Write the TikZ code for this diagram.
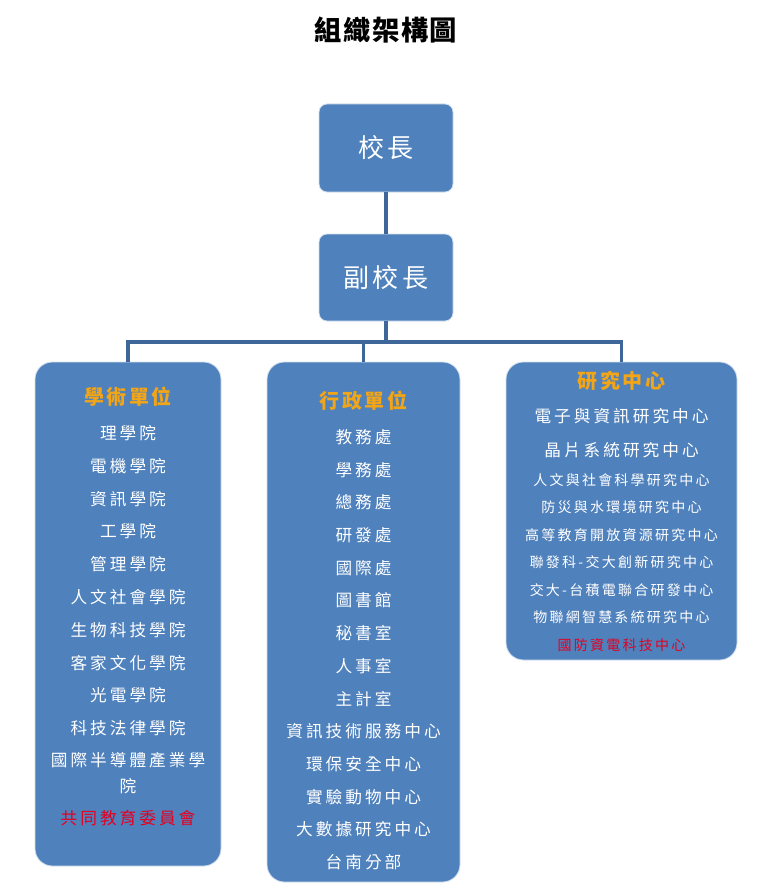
\documentclass[tikz,border=0pt]{standalone}
\usepackage{fontspec}
\setmainfont{Noto Sans CJK TC}
\newfontfamily\cjkbody[LetterSpace=18]{Noto Sans CJK TC}
\newfontfamily\cjksmall[LetterSpace=16]{Noto Sans CJK TC}
\newfontfamily\cjkhead[LetterSpace=12]{Noto Sans CJK TC}
\newfontfamily\cjktitle[LetterSpace=5]{Noto Sans CJK TC}
\usepackage{xcolor}
\usepackage{tikz}
\definecolor{boxblue}{RGB}{79,129,189}
\definecolor{linkblue}{RGB}{62,102,152}
\definecolor{headorange}{RGB}{242,165,22}
\definecolor{notered}{RGB}{228,0,32}

\begin{document}
\begin{tikzpicture}[x=0.75pt, y=-0.75pt,
    unitbox/.style={draw=white!75!boxblue, line width=0.6pt, fill=boxblue,
      rounded corners=13pt, inner sep=0pt},
    chiefbox/.style={unitbox, rounded corners=6pt, minimum width=100.5pt,
      text=white, font=\cjkhead\fontsize{19.5}{22}\selectfont},
    link/.style={linkblue, line width=2.4pt},
    head/.style={text=headorange, font=\cjkhead\fontsize{15}{18}\selectfont\bfseries},
    item/.style={text=white, font=\cjkbody\fontsize{12.5}{18}\selectfont, align=center},
    smallitem/.style={text=white, font=\cjksmall\fontsize{10.5}{12}\selectfont}]
  \useasboundingbox (0,0) rectangle (774,895);
  % ---- title ----
  \node[font=\cjktitle\fontsize{20.5}{24}\selectfont\bfseries] (title) at (386,30) {組織架構圖};
  % ---- top of the chart ----
  \node[chiefbox, minimum height=66pt] (pres) at (386,148) {校長};
  \node[chiefbox, minimum height=65.25pt] (vice) at (386,277.5) {副校長};
  % ---- three units ----
  \node[unitbox, minimum width=139.5pt, minimum height=378pt] (acad) at (128,614) {};
  \node[unitbox, minimum width=144.75pt, minimum height=390pt] (admin) at (363.5,622) {};
  \node[unitbox, minimum width=173.25pt, minimum height=223.5pt] (rsch) at (621.5,511) {};
  % ---- links ----
  \coordinate (bus) at (386,342);
  \draw[link] (pres) -- (vice);
  \draw[link] (vice) -- (bus);
  \draw[link] (acad.north) |- (bus) -| (rsch.north);
  \draw[link] (admin.north) -- (admin.north |- bus);
  % ---- 學術單位 ----
  \node[head] (acadhead) at (128,397) {學術單位};
  \foreach \t [count=\i] in {理學院,電機學院,資訊學院,工學院,管理學院,
      人文社會學院,生物科技學院,客家文化學院,光電學院,科技法律學院}
    \node[item] (acad\i) at (128,{433+32.8*(\i-1)}) {\t};
  \node[item] (acad11) at (128,773) {國際半導體產業學\\[2pt]院};
  \node[item, text=notered] (acad12) at (128,818) {共同教育委員會};
  % ---- 行政單位 ----
  \node[head] (adminhead) at (363.5,401) {行政單位};
  \foreach \t [count=\i] in {教務處,學務處,總務處,研發處,國際處,圖書館,秘書室,
      人事室,主計室,資訊技術服務中心,環保安全中心,實驗動物中心,大數據研究中心,台南分部}
    \node[item] (admin\i) at (363.5,{437+32.71*(\i-1)}) {\t};
  % ---- 研究中心 ----
  \node[head] (rschhead) at (621.5,381) {研究中心};
  \node[item] (rsch1) at (621.5,416) {電子與資訊研究中心};
  \node[item] (rsch2) at (621.5,450) {晶片系統研究中心};
  \foreach \t [count=\i] in {人文與社會科學研究中心,防災與水環境研究中心,
      高等教育開放資源研究中心,聯發科-交大創新研究中心,交大-台積電聯合研發中心,
      物聯網智慧系統研究中心}
    \node[smallitem] (rschs\i) at (621.5,{480+27.5*(\i-1)}) {\t};
  \node[smallitem, text=notered] (rschs7) at (621.5,645) {國防資電科技中心};
\end{tikzpicture}
\end{document}
